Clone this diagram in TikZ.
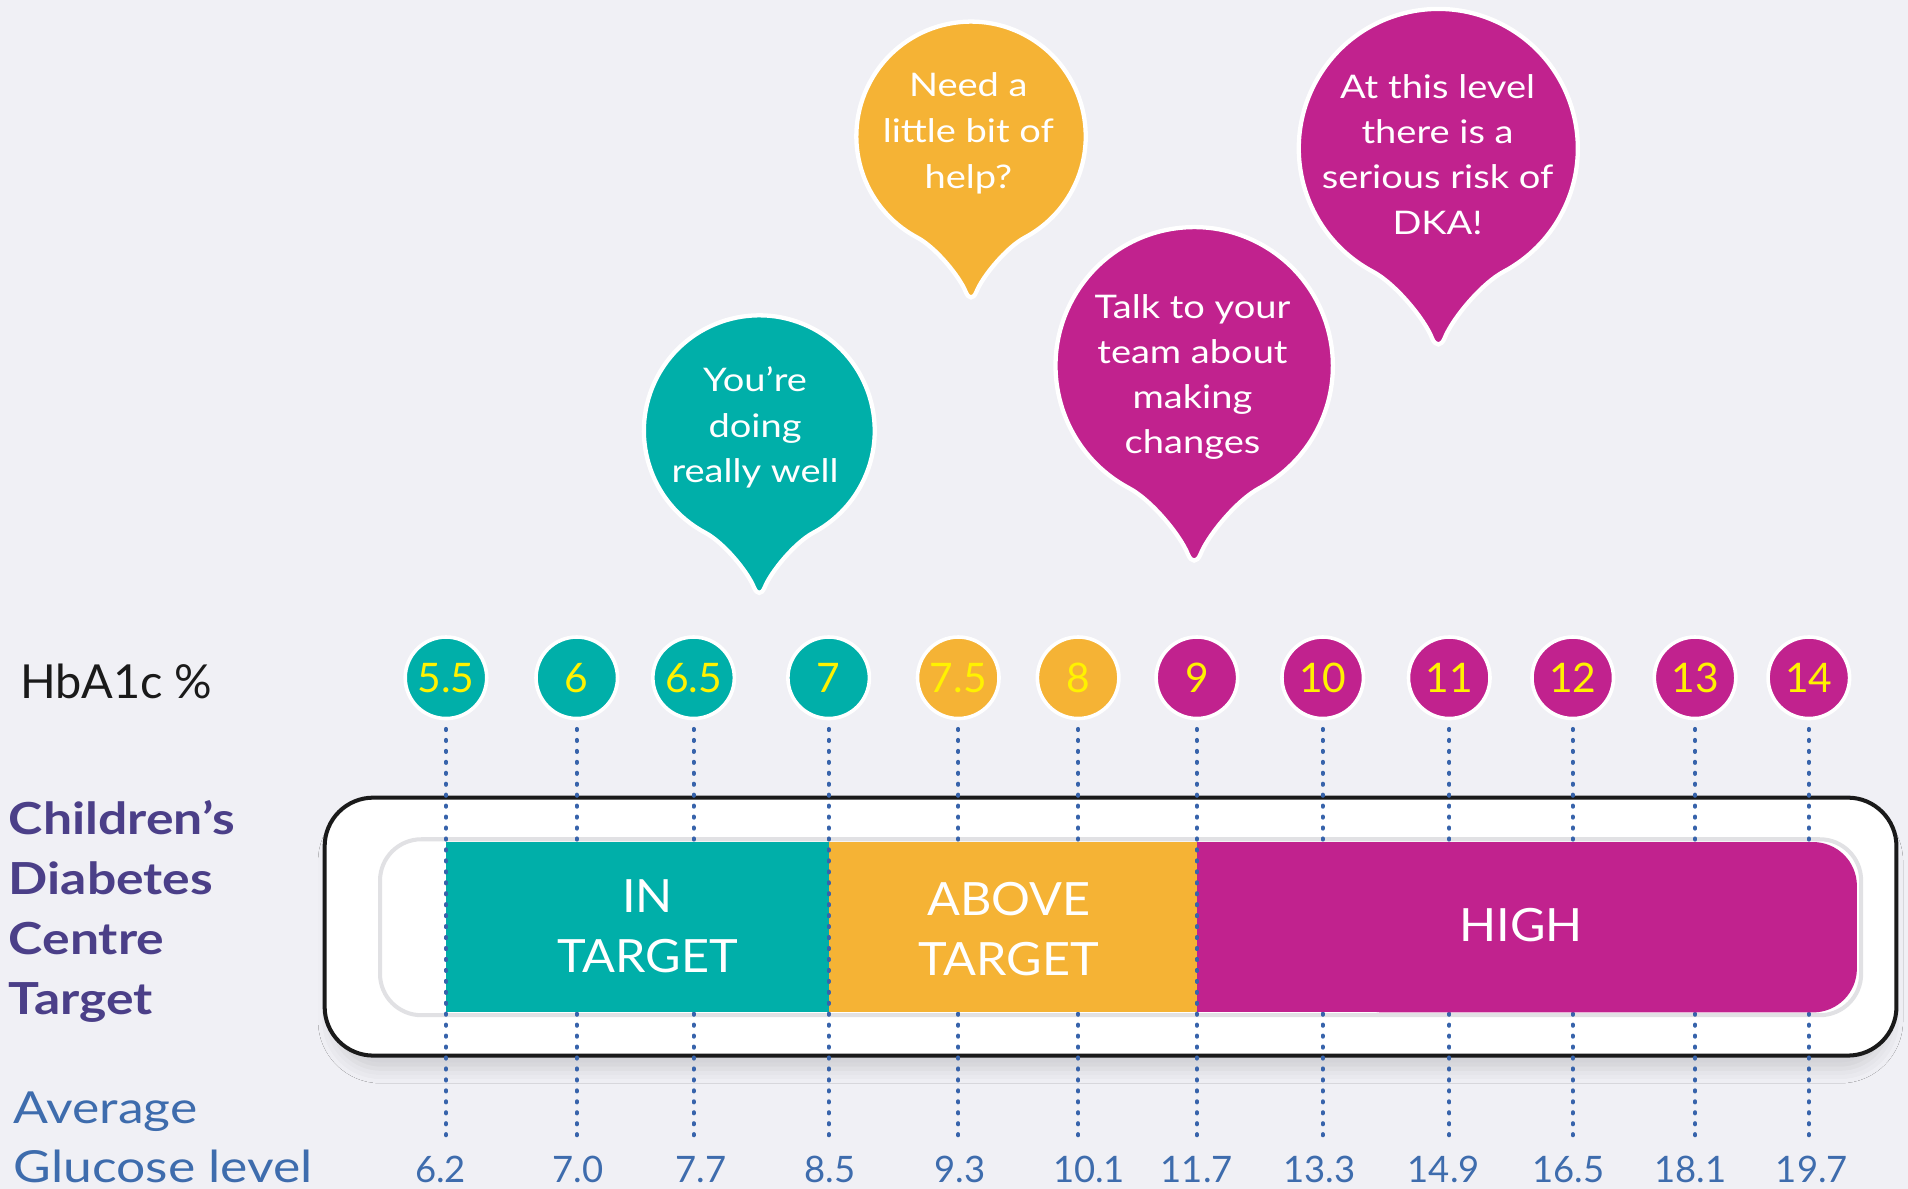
\documentclass[tikz,border=0pt]{standalone}
\usepackage{fontspec}
\setmainfont{Lato}
\newfontfamily\widefont{Lato}[FakeStretch=1.17]
\newfontfamily\barfont{Lato}[FakeStretch=1.06]
\usetikzlibrary{shadows.blur}
\definecolor{bgc}{HTML}{F0F0F5}
\definecolor{cteal}{HTML}{00AFA9}
\definecolor{corange}{HTML}{F5B335}
\definecolor{cmag}{HTML}{C1228E}
\definecolor{cyel}{HTML}{FFF200}
\definecolor{cpurple}{HTML}{4B3F88}
\definecolor{cblue}{HTML}{3E6CAD}
\definecolor{cdot}{HTML}{3763AB}
\definecolor{ctrack}{HTML}{E1E1E4}
\definecolor{cblack}{HTML}{1A1A1A}
\newcommand{\bubbleshape}[4]{%
  \begin{scope}[shift={(#2,#3)}, scale=#4]
    \filldraw[fill=#1, draw=white, line width=2.5pt]
      (118:100) arc[start angle=118, end angle=422, radius=100]
      .. controls (31.1,96.7) and (10,122) .. (4.5,136)
      .. controls (2,142) and (-2,142) .. (-4.5,136)
      .. controls (-10,122) and (-31.1,96.7) .. (118:100) -- cycle;
  \end{scope}}
\begin{document}
\begin{tikzpicture}[x=0.025cm,y=-0.025cm,
  dotline/.style={draw=cdot, line width=2.3pt, line cap=round, dash pattern=on 0.7pt off 5.7pt},
  hcirc/.style={circle, draw=white, line width=2.1pt, minimum size=1.675cm, inner sep=0pt,
    text=cyel, font=\fontsize{23.8}{28}\selectfont},
  btext/.style={anchor=base, inner sep=0pt, text=white, font=\widefont\fontsize{19}{23}\selectfont},
  bartext/.style={anchor=base, inner sep=0pt, text=white, font=\barfont\fontsize{26.8}{32}\selectfont},
  gnum/.style={anchor=base, inner sep=0pt, text=cblue, font=\fontsize{21.3}{26}\selectfont},
  lefttext/.style={anchor=base west, inner sep=0pt, text=cpurple, font=\widefont\fontsize{25.8}{31}\selectfont\bfseries},
  avgtext/.style={anchor=base west, inner sep=0pt, text=cblue, font=\widefont\fontsize{25.8}{31}\selectfont}]
\fill[bgc] (0,0) rectangle (1568,977);
\useasboundingbox (0,0) rectangle (1568,977);

% outer box and track
\draw[cblack, line width=2.35pt, fill=white, rounded corners=1cm,
  blur shadow={shadow xshift=0pt, shadow yshift=-0.3cm, shadow opacity=14, shadow blur radius=0.3cm, shadow scale=0.99}]
  (266.8,655.5) rectangle (1558.5,867.5);
\draw[ctrack, line width=2.35pt, fill=white, rounded corners=0.85cm]
  (312.3,689.7) rectangle (1529.5,834.3);

% HbA1c circles
\node[hcirc, fill=cteal]   (c1)  at (366.5,557) {5.5};
\node[hcirc, fill=cteal]   (c2)  at (474,557)   {6};
\node[hcirc, fill=cteal]   (c3)  at (570,557)   {6.5};
\node[hcirc, fill=cteal]   (c4)  at (681,557)   {7};
\node[hcirc, fill=corange] (c5)  at (787.5,557) {7.5};
\node[hcirc, fill=corange] (c6)  at (886,557)   {8};
\node[hcirc, fill=cmag]    (c7)  at (983.6,557) {9};
\node[hcirc, fill=cmag]    (c8)  at (1087,557)  {10};
\node[hcirc, fill=cmag]    (c9)  at (1191,557)  {11};
\node[hcirc, fill=cmag]    (c10) at (1292.5,557){12};
\node[hcirc, fill=cmag]    (c11) at (1393,557)  {13};
\node[hcirc, fill=cmag]    (c12) at (1486.5,557){14};

% end points of dotted lines
\foreach \i/\x in {1/366.5,2/474,3/570,4/681,5/787.5,6/886,7/983.6,8/1087,9/1191,10/1292.5,11/1393,12/1486.5}
  \coordinate (e\i) at (\x,933);

% dotted lines behind the bar
\foreach \i in {2,3,5,6,8,9,10,11,12}
  \draw[dotline] ([yshift=-5pt]c\i.south) -- (e\i);

% coloured bar
\fill[cteal] (366.5,692) rectangle (681,832);
\fill[corange] (681,692) rectangle (983.6,832);
\fill[cmag, rounded corners=0.9cm] (1100,692) rectangle (1526,832);
\fill[cmag] (983.6,692) rectangle (1200,832);

% dotted lines over the bar
\foreach \i in {1,4,7}
  \draw[dotline] ([yshift=-5pt]c\i.south) -- (e\i);

% bar texts
\node[bartext] (in1) at (532,750) {IN};
\node[bartext] (in2) at (532,799.4) {TARGET};
\node[bartext] (ab1) at (829,752.5) {ABOVE};
\node[bartext] (ab2) at (829,801.5) {TARGET};
\node[bartext] (hi1) at (1250,774) {HIGH};

% left labels
\node[anchor=base west, inner sep=0pt, text=cblack, font=\fontsize{27.4}{33}\selectfont] (hba) at (16.5,574) {HbA1c \%};
\node[lefttext] (l1) at (7,686) {Children’s};
\node[lefttext] (l2) at (7,735.5) {Diabetes};
\node[lefttext] (l3) at (7,784.8) {Centre};
\node[lefttext] (l4) at (7,833.5) {Target};
\node[avgtext] (a1) at (11,923) {Average};
\node[avgtext] (a2) at (11,972) {Glucose level};

% glucose numbers
\foreach \i/\x/\t in {1/362/6.2,2/475/7.0,3/576/7.7,4/682/8.5,5/789/9.3,6/895/10.1,7/983.5/11.7,8/1084.5/13.3,9/1186.5/14.9,10/1289/16.5,11/1389/18.1,12/1489/19.7}
  \node[gnum] (g\i) at (\x,972) {\t};

% speech bubbles
\bubbleshape{cteal}{624}{354}{0.9485}
\bubbleshape{corange}{798}{112}{0.9425}
\bubbleshape{cmag}{981.4}{300.6}{1.1395}
\bubbleshape{cmag}{1182}{122}{1.1465}

\node[btext] (t1a) at (620.5,321.9) {You’re};
\node[btext] (t1b) at (620.5,359.4) {doing};
\node[btext] (t1c) at (620.5,396.7) {really well};

\node[btext] (t2a) at (795.8,79.5) {Need a};
\node[btext] (t2b) at (795.8,117.3) {little bit of};
\node[btext] (t2c) at (795.8,154.8) {help?};

\node[btext] (t3a) at (980,261.6) {Talk to your};
\node[btext] (t3b) at (980,298.6) {team about};
\node[btext] (t3c) at (980,335.6) {making};
\node[btext] (t3d) at (980,372.6) {changes};

\node[btext] (t4a) at (1181.4,80.8) {At this level};
\node[btext] (t4b) at (1181.4,117.9) {there is a};
\node[btext] (t4c) at (1181.4,155.0) {serious risk of};
\node[btext] (t4d) at (1181.4,193.1) {DKA!};
\end{tikzpicture}
\end{document}
